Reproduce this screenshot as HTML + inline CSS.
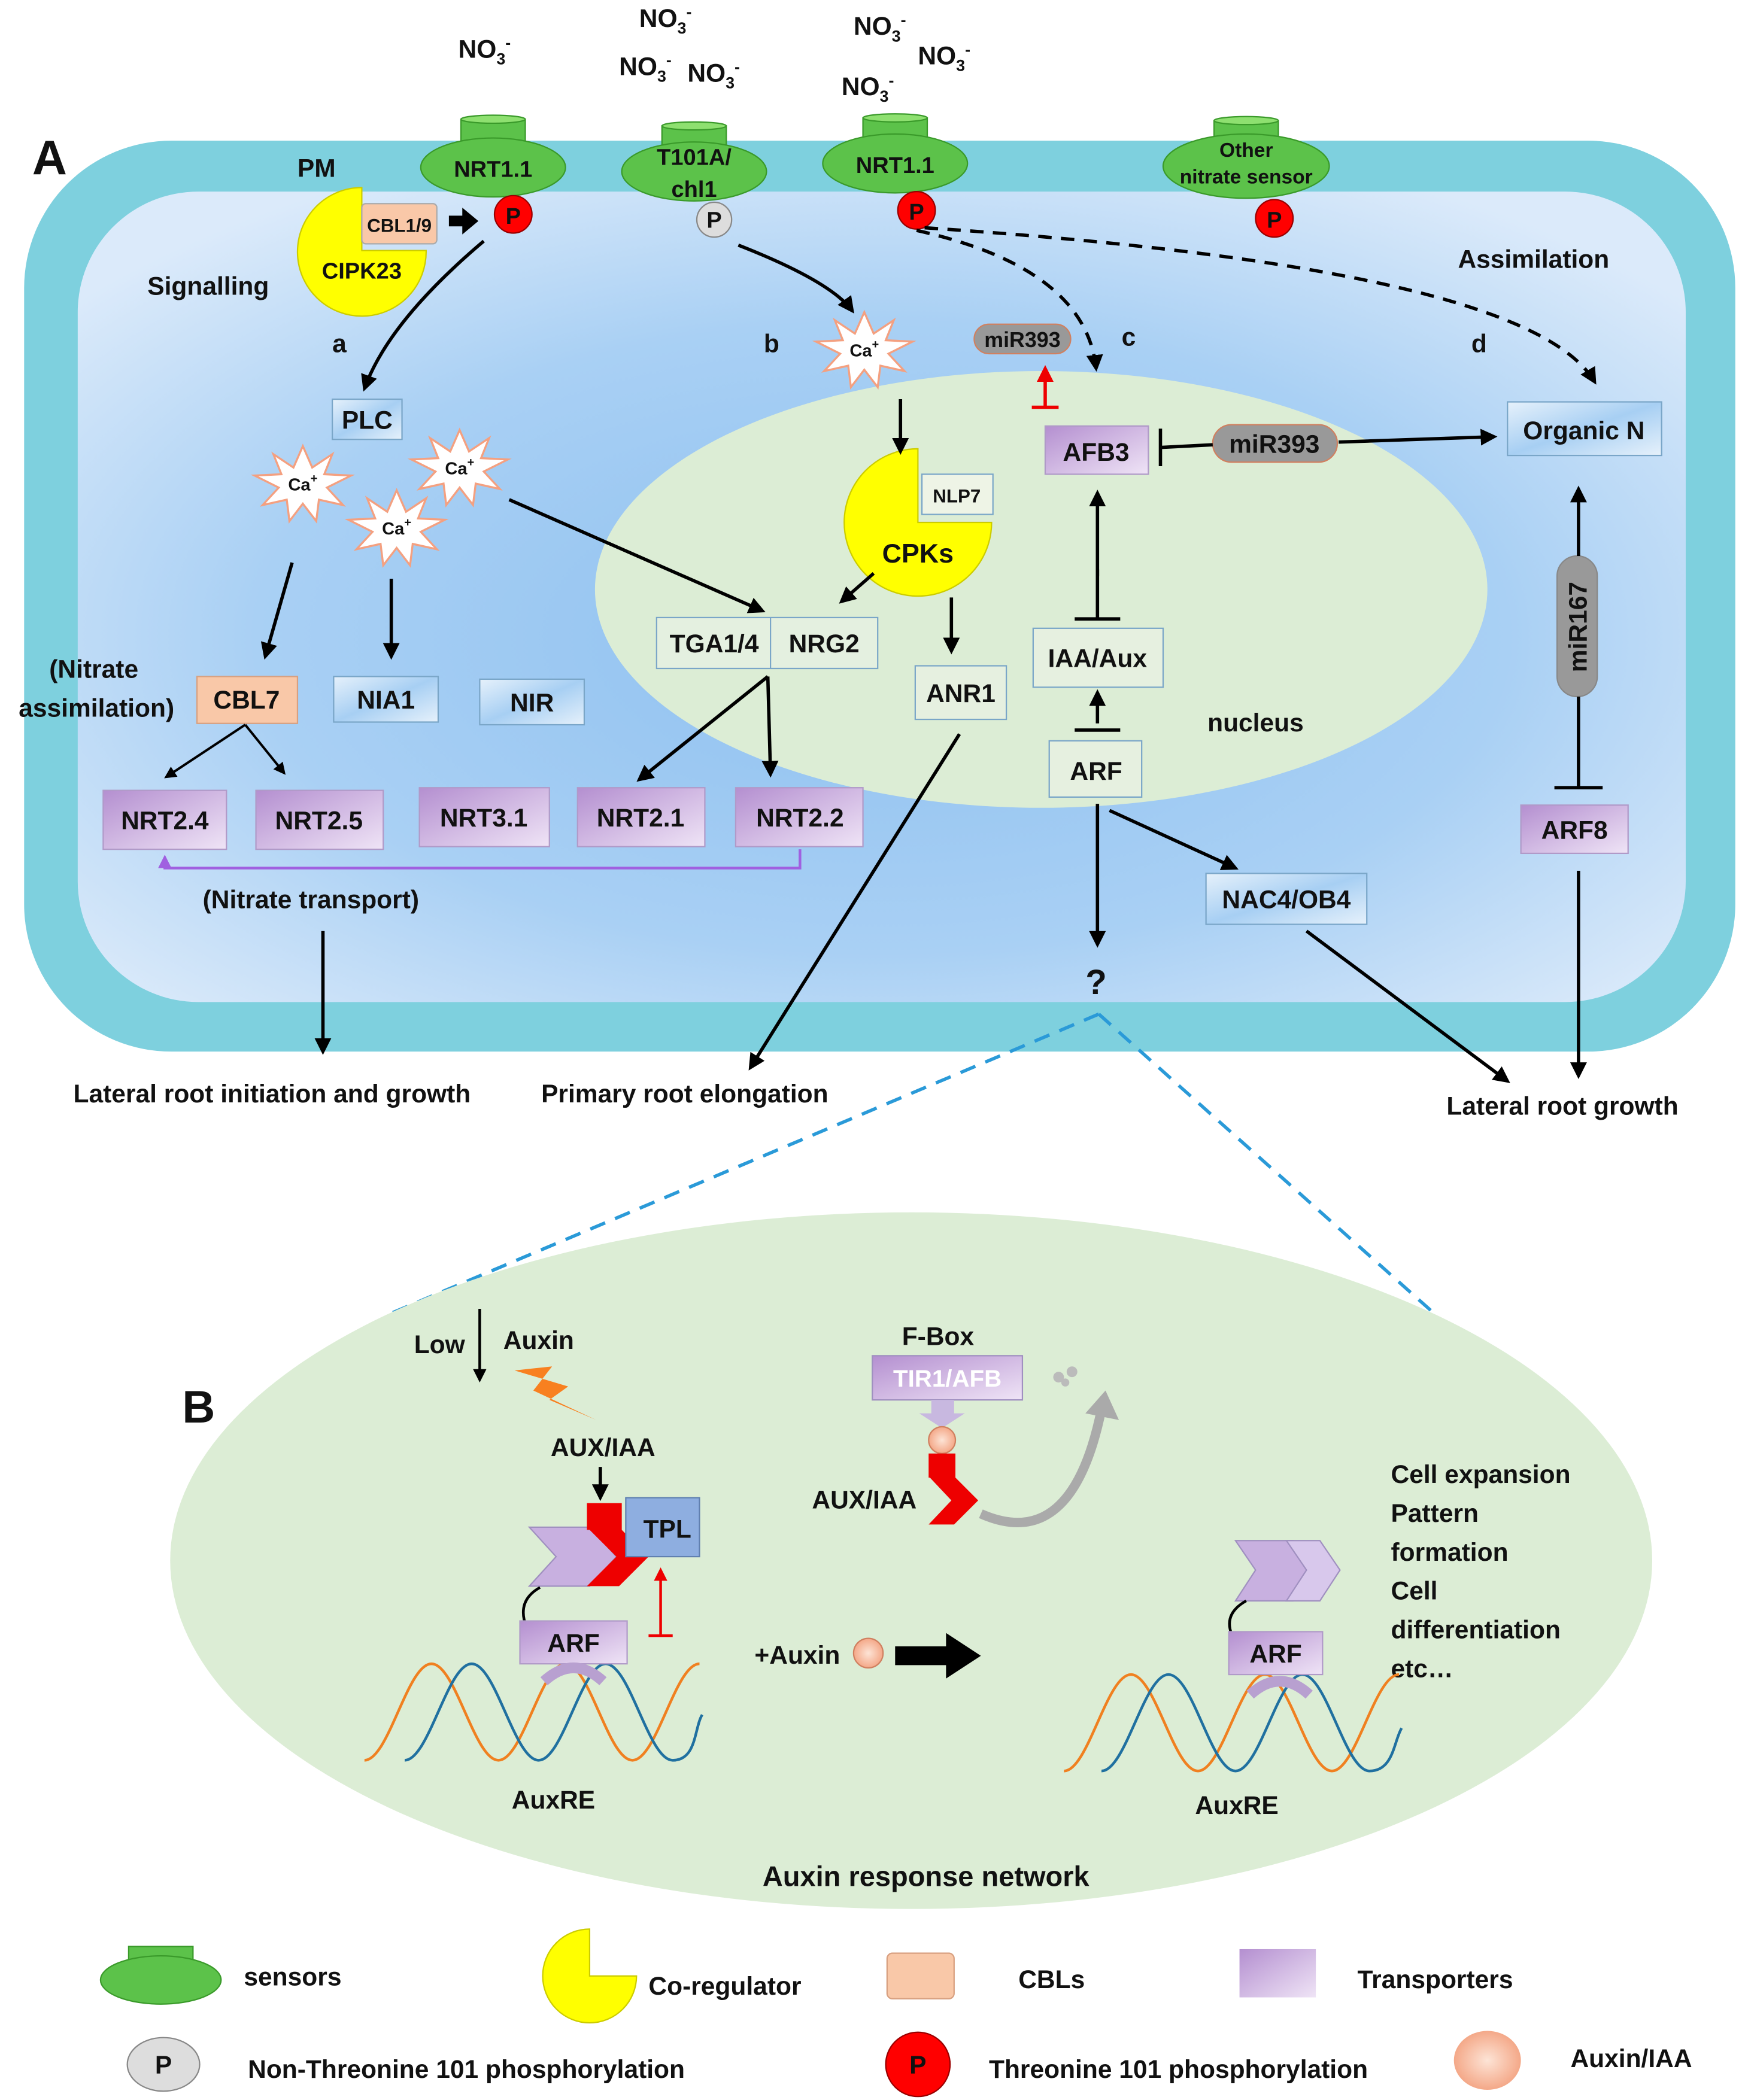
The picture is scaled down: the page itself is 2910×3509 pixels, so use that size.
<!DOCTYPE html>
<html><head><meta charset="utf-8"><style>
html,body{margin:0;padding:0;background:#fff}
svg{display:block}
text{font-family:"Liberation Sans",sans-serif;font-weight:bold;fill:#111}
</style></head><body>
<svg xmlns="http://www.w3.org/2000/svg" width="2910" height="3509" viewBox="0 0 1300 1567.6">
<defs>
<marker id="ah" viewBox="0 0 10 10" refX="8" refY="5" markerWidth="5" markerHeight="5" orient="auto"><path d="M0,0 L10,5 L0,10 z" fill="#000"/></marker>
<marker id="ahr" viewBox="0 0 10 10" refX="8" refY="5" markerWidth="5" markerHeight="5" orient="auto"><path d="M0,0 L10,5 L0,10 z" fill="#e00"/></marker>
<marker id="ahp" viewBox="0 0 10 10" refX="8" refY="5" markerWidth="5" markerHeight="5" orient="auto"><path d="M0,0 L10,5 L0,10 z" fill="#a060e0"/></marker>
<radialGradient id="cellg" cx="0.5" cy="0.55" r="0.65"><stop offset="0" stop-color="#8ec0f0"/><stop offset="0.6" stop-color="#a9d0f4"/><stop offset="1" stop-color="#dbeafa"/></radialGradient>
<linearGradient id="pur" x1="0" y1="0" x2="1" y2="1"><stop offset="0" stop-color="#b48fd0"/><stop offset="1" stop-color="#efe4f6"/></linearGradient>
<linearGradient id="blu" x1="0" y1="0" x2="1" y2="1"><stop offset="0" stop-color="#e6f1fb"/><stop offset="0.5" stop-color="#a7cff3"/><stop offset="1" stop-color="#e6f1fb"/></linearGradient>
<radialGradient id="aux"><stop offset="0" stop-color="#fde4d6"/><stop offset="1" stop-color="#f4a888"/></radialGradient>
<symbol id="ca" viewBox="-40 -30 80 60"><polygon points="0,-28 7,-12 22,-22 16,-7 36,-6 18,3 30,16 12,12 10,28 0,15 -10,28 -12,12 -30,16 -18,3 -36,-6 -16,-7 -22,-22 -7,-12" fill="#fff" stroke="#f4a080" stroke-width="1.5"/></symbol>
</defs>

<rect x="18" y="105" width="1277" height="680" rx="110" fill="#7ed0de"/>
<rect x="58" y="143" width="1200" height="605" rx="90" fill="url(#cellg)"/>
<ellipse cx="777" cy="440" rx="333" ry="163" fill="#dcedd5"/>
<text x="24" y="130" font-size="36">A</text>
<text x="222" y="132" font-size="19">PM</text>
<text x="110" y="220" font-size="19">Signalling</text>
<text x="1088" y="200" font-size="19">Assimilation</text>
<text x="248" y="263" font-size="19">a</text>
<text x="570" y="263" font-size="19">b</text>
<text x="837" y="258" font-size="19">c</text>
<text x="1098" y="263" font-size="19">d</text>

<g font-size="19">
<text x="342" y="43">NO<tspan font-size="12" dy="5">3</tspan><tspan font-size="12" dy="-12">-</tspan></text>
<text x="477" y="20">NO<tspan font-size="12" dy="5">3</tspan><tspan font-size="12" dy="-12">-</tspan></text>
<text x="462" y="56">NO<tspan font-size="12" dy="5">3</tspan><tspan font-size="12" dy="-12">-</tspan></text>
<text x="513" y="61">NO<tspan font-size="12" dy="5">3</tspan><tspan font-size="12" dy="-12">-</tspan></text>
<text x="637" y="26">NO<tspan font-size="12" dy="5">3</tspan><tspan font-size="12" dy="-12">-</tspan></text>
<text x="685" y="48">NO<tspan font-size="12" dy="5">3</tspan><tspan font-size="12" dy="-12">-</tspan></text>
<text x="628" y="71">NO<tspan font-size="12" dy="5">3</tspan><tspan font-size="12" dy="-12">-</tspan></text>
</g>

<g stroke="#3a9a2a" stroke-width="1">
<rect x="344" y="89" width="48" height="18" fill="#5cc24a"/><ellipse cx="368" cy="89" rx="24" ry="3" fill="#8ee070"/>
<ellipse cx="368" cy="125" rx="54" ry="22" fill="#5cc24a"/>
<rect x="494" y="94" width="48" height="18" fill="#5cc24a"/><ellipse cx="518" cy="94" rx="24" ry="3" fill="#8ee070"/>
<ellipse cx="518" cy="128" rx="54" ry="22" fill="#5cc24a"/>
<rect x="644" y="88" width="48" height="18" fill="#5cc24a"/><ellipse cx="668" cy="88" rx="24" ry="3" fill="#8ee070"/>
<ellipse cx="668" cy="122" rx="54" ry="22" fill="#5cc24a"/>
<rect x="906" y="90" width="48" height="18" fill="#5cc24a"/><ellipse cx="930" cy="90" rx="24" ry="3" fill="#8ee070"/>
<ellipse cx="930" cy="124" rx="62" ry="24" fill="#5cc24a"/>
</g>
<text x="368" y="132" font-size="17" text-anchor="middle">NRT1.1</text>
<text x="518" y="123" font-size="17" text-anchor="middle">T101A/</text>
<text x="518" y="147" font-size="17" text-anchor="middle">chl1</text>
<text x="668" y="129" font-size="17" text-anchor="middle">NRT1.1</text>
<text x="930" y="117" font-size="15" text-anchor="middle">Other</text>
<text x="930" y="137" font-size="15" text-anchor="middle">nitrate sensor</text>
<g font-size="17" text-anchor="middle">
<circle cx="383" cy="160" r="14" fill="#f00" stroke="#900"/><text x="383" y="167">P</text>
<circle cx="533" cy="164" r="13" fill="#ddd" stroke="#888"/><text x="533" y="170">P</text>
<circle cx="684" cy="157" r="14" fill="#f00" stroke="#900"/><text x="684" y="164">P</text>
<circle cx="951" cy="163" r="14" fill="#f00" stroke="#900"/><text x="951" y="170">P</text>
</g>
<path d="M270,187 L270,140 A48,48 0 1 0 318,187 Z" fill="#ffff00" stroke="#cc0"/>
<rect x="270" y="152" width="56" height="30" rx="3" fill="#f9c8a8" stroke="#aaa"/>
<text x="298" y="173" font-size="14" text-anchor="middle">CBL1/9</text>
<text x="270" y="208" font-size="17" text-anchor="middle">CIPK23</text>
<path d="M335,161 h10 v-6 l12,10 l-12,10 v-6 h-10z" fill="#000"/>

<use href="#ca" x="605" y="231" width="80" height="60"/>
<text x="645" y="266" font-size="13" text-anchor="middle">Ca<tspan font-size="9" dy="-6">+</tspan></text>
<use href="#ca" x="186" y="331" width="80" height="60"/>
<text x="226" y="366" font-size="13" text-anchor="middle">Ca<tspan font-size="9" dy="-6">+</tspan></text>
<use href="#ca" x="303" y="319" width="80" height="60"/>
<text x="343" y="354" font-size="13" text-anchor="middle">Ca<tspan font-size="9" dy="-6">+</tspan></text>
<use href="#ca" x="256" y="364" width="80" height="60"/>
<text x="296" y="399" font-size="13" text-anchor="middle">Ca<tspan font-size="9" dy="-6">+</tspan></text>

<g stroke="#7aa6c8" stroke-width="1">
<rect x="248" y="298" width="52" height="30" fill="url(#blu)"/>
<rect x="1125" y="300" width="115" height="40" fill="url(#blu)"/>
<rect x="249" y="505" width="78" height="34" fill="url(#blu)"/>
<rect x="358" y="507" width="78" height="34" fill="url(#blu)"/>
<rect x="900" y="652" width="120" height="38" fill="url(#blu)"/>
<rect x="490" y="461" width="165" height="38" fill="#e4f0e0"/><line x1="575" y1="461" x2="575" y2="499"/>
<rect x="688" y="354" width="53" height="30" fill="#eef4e6"/>
<rect x="683" y="497" width="68" height="40" fill="#e6f0e0"/>
<rect x="771" y="469" width="97" height="44" fill="#e6f0e0"/>
<rect x="783" y="553" width="69" height="42" fill="#e6f0e0"/>
</g>
<g stroke="#b09ac8" stroke-width="1">
<rect x="780" y="318" width="77" height="36" fill="url(#pur)"/>
<rect x="1135" y="601" width="80" height="36" fill="url(#pur)"/>
<rect x="77" y="590" width="92" height="44" fill="url(#pur)"/>
<rect x="191" y="590" width="95" height="44" fill="url(#pur)"/>
<rect x="313" y="588" width="97" height="44" fill="url(#pur)"/>
<rect x="431" y="588" width="95" height="44" fill="url(#pur)"/>
<rect x="549" y="588" width="95" height="44" fill="url(#pur)"/>
</g>
<rect x="147" y="505" width="75" height="35" fill="#f9c8a8" stroke="#d8a080"/>
<path d="M685,390 L685,335 A55,55 0 1 0 740,390 Z" fill="#ffff00" stroke="#cc0"/>
<text x="714" y="375" font-size="14" text-anchor="middle">NLP7</text>
<text x="685" y="420" font-size="20" text-anchor="middle">CPKs</text>
<rect x="727" y="242" width="72" height="22" rx="11" fill="#999" stroke="#d08060"/>
<text x="763" y="259" font-size="16" text-anchor="middle">miR393</text>
<rect x="905" y="317" width="93" height="28" rx="14" fill="#999" stroke="#d08060"/>
<text x="951" y="338" font-size="19" text-anchor="middle">miR393</text>
<rect x="1162" y="415" width="30" height="105" rx="15" fill="#999" stroke="#888"/>
<text transform="translate(1184,468) rotate(-90)" font-size="19" text-anchor="middle">miR167</text>

<g font-size="19" text-anchor="middle">
<text x="274" y="320">PLC</text>
<text x="818" y="344">AFB3</text>
<text x="1182" y="328">Organic N</text>
<text x="533" y="487">TGA1/4</text>
<text x="615" y="487">NRG2</text>
<text x="717" y="524">ANR1</text>
<text x="819" y="498">IAA/Aux</text>
<text x="818" y="582">ARF</text>
<text x="937" y="546">nucleus</text>
<text x="1175" y="626">ARF8</text>
<text x="184" y="529">CBL7</text>
<text x="288" y="529">NIA1</text>
<text x="397" y="531">NIR</text>
<text x="123" y="619">NRT2.4</text>
<text x="238" y="619">NRT2.5</text>
<text x="361" y="617">NRT3.1</text>
<text x="478" y="617">NRT2.1</text>
<text x="597" y="617">NRT2.2</text>
<text x="960" y="678">NAC4/OB4</text>
<text x="70" y="506">(Nitrate</text>
<text x="72" y="535">assimilation)</text>
<text x="232" y="678">(Nitrate transport)</text>
<text x="818" y="742" font-size="26">?</text>
<text x="203" y="823">Lateral root initiation and growth</text>
<text x="511" y="823">Primary root elongation</text>
<text x="1166" y="832">Lateral root growth</text>
</g>

<g stroke="#000" stroke-width="2.5" fill="none" marker-end="url(#ah)">
<path d="M361,180 Q290,240 272,290"/>
<path d="M551,183 Q620,210 636,232"/>
<path d="M672,298 V337"/>
<path d="M380,373 L569,456"/>
<path d="M652,428 L628,449"/>
<path d="M710,446 V486"/>
<path d="M218,420 L198,490"/>
<path d="M292,432 V490"/>
<path d="M573,505 L477,582"/>
<path d="M573,505 L575,578"/>
<path d="M819,430 V368"/>
<path d="M999,330 L1115,326"/>
<path d="M1178,415 V365"/>
<path d="M819,540 V517"/>
<path d="M819,600 V705"/>
<path d="M828,605 L922,648"/>
<path d="M716,548 L560,797"/>
<path d="M975,695 L1125,807"/>
<path d="M1178,650 V803"/>
<path d="M241,695 V785"/>
<path d="M684,172 Q810,200 818,275" stroke-dasharray="10,7"/>
<path d="M690,170 Q1140,200 1190,285" stroke-dasharray="10,7"/>
</g>
<g stroke="#000" stroke-width="1.8" fill="none" marker-end="url(#ah)">
<path d="M183,541 L124,580"/><path d="M183,541 L212,577"/>
</g>
<g stroke="#000" stroke-width="2.5">
<path d="M819,462 V425" /><path d="M802,462 h34"/>
<path d="M802,545 h34"/>
<path d="M866,320 v28"/><path d="M866,334 L905,332"/>
<path d="M1178,520 V587"/><path d="M1160,588 h36"/>
</g>
<path d="M780,303 V275" stroke="#e00" stroke-width="2.5" marker-end="url(#ahr)"/>
<path d="M770,304 h20" stroke="#e00" stroke-width="2.5"/>
<path d="M597,634 V648 H123 V640" stroke="#a060e0" stroke-width="2" fill="none" marker-end="url(#ahp)"/>

<path d="M820,757 L288,982 M820,757 L1072,982" stroke="#2a9ad8" stroke-width="2.5" stroke-dasharray="12,8" fill="none"/>
<ellipse cx="680" cy="1165" rx="553" ry="260" fill="#dcedd5"/>
<text x="136" y="1062" font-size="34">B</text>
<g font-size="19" text-anchor="middle">
<text x="328" y="1010">Low</text>
<text x="402" y="1007">Auxin</text>
<text x="450" y="1087">AUX/IAA</text>
<text x="700" y="1004">F-Box</text>
<text x="645" y="1126">AUX/IAA</text>
<text x="595" y="1242">+Auxin</text>
<text x="413" y="1350">AuxRE</text>
<text x="923" y="1354">AuxRE</text>
<text x="691" y="1408" font-size="21">Auxin response network</text>
</g>
<g font-size="19">
<text x="1038" y="1107">Cell expansion</text>
<text x="1038" y="1136">Pattern</text>
<text x="1038" y="1165">formation</text>
<text x="1038" y="1194">Cell</text>
<text x="1038" y="1223">differentiation</text>
<text x="1038" y="1252">etc…</text>
</g>
<path d="M358,977 V1030" stroke="#000" stroke-width="2" marker-end="url(#ah)"/>
<polygon points="384,1023 412,1020 398,1038 445,1060 410,1045 424,1035" fill="#f88020"/>
<path d="M448,1095 V1118" stroke="#000" stroke-width="2.5" marker-end="url(#ah)"/>

<!-- DNA left -->
<path d="M272,1314 C290,1314 304,1242 322,1242 S354,1314 372,1314 S404,1242 422,1242 S454,1314 472,1314 S504,1242 522,1242" stroke="#f08020" stroke-width="2" fill="none"/>
<path d="M302,1314 C320,1314 334,1242 352,1242 S384,1314 402,1314 S434,1242 452,1242 S484,1314 502,1314 S518,1290 524,1280" stroke="#2070a0" stroke-width="2" fill="none"/>

<polygon points="395,1140 440,1140 460,1162 440,1184 395,1184 415,1162" fill="#c8b0e0" stroke="#a090c0"/>
<rect x="438" y="1122" width="26" height="20" fill="#e00"/>
<polygon points="438,1140 462,1140 484,1162 462,1184 438,1184 460,1162" fill="#e00"/>
<rect x="467" y="1118" width="55" height="44" fill="#8eaee0" stroke="#6080b0"/>
<text x="498" y="1148" font-size="19" text-anchor="middle">TPL</text>
<path d="M403,1185 Q385,1195 393,1215" stroke="#000" stroke-width="2" fill="none"/>
<rect x="388" y="1210" width="80" height="32" fill="url(#pur)" stroke="#b09ac8"/>
<text x="428" y="1233" font-size="19" text-anchor="middle">ARF</text>
<path d="M406,1255 Q428,1235 450,1255" stroke="#b8a0d0" stroke-width="8" fill="none"/>
<path d="M493,1220 V1172" stroke="#e00" stroke-width="2" marker-end="url(#ahr)"/>
<path d="M484,1221 h18" stroke="#e00" stroke-width="2"/>

<rect x="651" y="1012" width="112" height="33" fill="url(#pur)" stroke="#a090c0"/>
<text x="707" y="1035" font-size="18" text-anchor="middle" style="fill:#fff">TIR1/AFB</text>
<polygon points="695,1045 712,1045 712,1055 720,1055 703,1066 686,1055 695,1055" fill="#c8b8e0"/>
<circle cx="703" cy="1075" r="10" fill="url(#aux)" stroke="#d08060"/>
<rect x="693" y="1085" width="20" height="18" fill="#e00"/>
<polygon points="693,1102 712,1102 730,1120 712,1138 693,1138 710,1120" fill="#e00"/>
<path d="M732,1130 Q800,1160 822,1052" stroke="#aaa" stroke-width="7" fill="none"/>
<polygon points="810,1055 825,1038 835,1060" fill="#aaa"/>
<circle cx="790" cy="1028" r="4" fill="#bbb"/><circle cx="800" cy="1024" r="4" fill="#bbb"/><circle cx="795" cy="1032" r="3" fill="#bbb"/>
<circle cx="648" cy="1234" r="11" fill="url(#aux)" stroke="#d08060"/>
<path d="M668,1229 h38 v-10 l26,17 l-26,17 v-10 h-38z" fill="#000"/>

<!-- DNA right -->
<path d="M794,1322 C812,1322 826,1250 844,1250 S876,1322 894,1322 S926,1250 944,1250 S976,1322 994,1322 S1026,1250 1044,1250" stroke="#f08020" stroke-width="2" fill="none"/>
<path d="M822,1322 C840,1322 854,1250 872,1250 S904,1322 922,1322 S954,1250 972,1250 S1004,1322 1022,1322 S1040,1300 1046,1290" stroke="#2070a0" stroke-width="2" fill="none"/>

<polygon points="922,1150 965,1150 980,1172 965,1195 922,1195 937,1172" fill="#c8b0e0" stroke="#a090c0"/>
<polygon points="960,1150 985,1150 1000,1172 985,1195 960,1195 975,1172" fill="#d8c8ec" stroke="#a090c0"/>
<path d="M930,1195 Q912,1205 920,1222" stroke="#000" stroke-width="2" fill="none"/>
<rect x="917" y="1218" width="70" height="32" fill="url(#pur)" stroke="#b09ac8"/>
<text x="952" y="1241" font-size="19" text-anchor="middle">ARF</text>
<path d="M933,1265 Q955,1245 977,1265" stroke="#b8a0d0" stroke-width="8" fill="none"/>

<rect x="96" y="1453" width="48" height="18" fill="#5cc24a" stroke="#3a9a2a"/>
<ellipse cx="120" cy="1478" rx="45" ry="18" fill="#5cc24a" stroke="#3a9a2a"/>
<path d="M440,1475 L440,1440 A35,35 0 1 0 475,1475 Z" fill="#ffff00" stroke="#cc0"/>
<rect x="662" y="1458" width="50" height="34" rx="4" fill="#f9c8a8" stroke="#d8a080"/>
<rect x="925" y="1455" width="57" height="36" fill="url(#pur)"/>
<ellipse cx="122" cy="1541" rx="27" ry="20" fill="#ddd" stroke="#888"/>
<circle cx="685" cy="1541" r="24" fill="#f00" stroke="#900"/>
<ellipse cx="1110" cy="1538" rx="25" ry="22" fill="url(#aux)"/>
<g font-size="19">
<text x="182" y="1482">sensors</text>
<text x="484" y="1489">Co-regulator</text>
<text x="760" y="1484">CBLs</text>
<text x="1013" y="1484">Transporters</text>
<text x="185" y="1551">Non-Threonine 101 phosphorylation</text>
<text x="738" y="1551">Threonine 101 phosphorylation</text>
<text x="1172" y="1543">Auxin/IAA</text>
<text x="122" y="1548" text-anchor="middle">P</text>
<text x="685" y="1548" text-anchor="middle">P</text>
</g>
</svg>
</body></html>
